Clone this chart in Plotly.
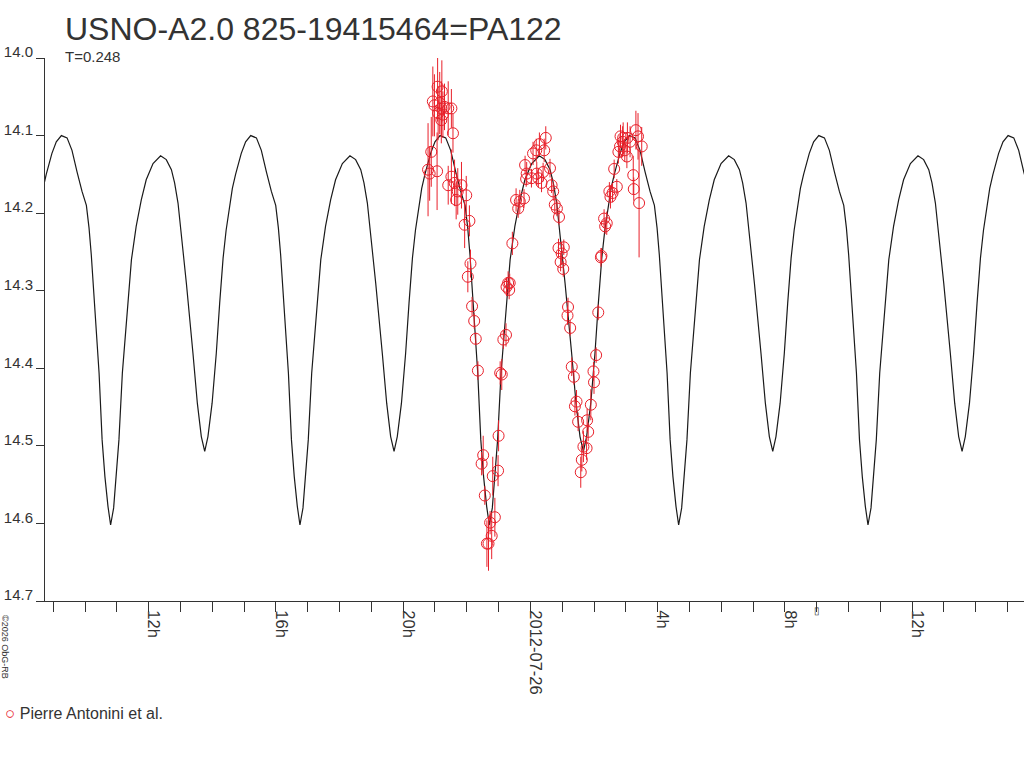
import plotly.graph_objects as go
import pandas as pd

# light curve model, one cycle (phase 0 = primary minimum)
MODEL_PHASE = [0.000, 0.016, 0.030, 0.044, 0.062, 0.088, 0.110, 0.135, 0.162, 0.188,
               0.224, 0.264, 0.294, 0.321, 0.338, 0.356, 0.369, 0.385, 0.400, 0.412,
               0.435, 0.458, 0.479, 0.497, 0.514, 0.536, 0.558, 0.576, 0.594, 0.610,
               0.625, 0.643, 0.660, 0.678, 0.690, 0.713, 0.740, 0.770, 0.796, 0.823,
               0.849, 0.872, 0.886, 0.898, 0.910, 0.918, 0.939, 0.955, 0.970, 0.986, 1.000]
MODEL_MAG = [14.602, 14.580, 14.540, 14.492, 14.406, 14.322, 14.260, 14.217, 14.183, 14.157,
             14.136, 14.126, 14.131, 14.144, 14.161, 14.187, 14.214, 14.255, 14.290, 14.325,
             14.381, 14.445, 14.488, 14.507, 14.488, 14.445, 14.381, 14.316, 14.258, 14.222,
             14.198, 14.168, 14.150, 14.134, 14.123, 14.108, 14.100, 14.103, 14.119, 14.147,
             14.172, 14.190, 14.219, 14.254, 14.297, 14.331, 14.406, 14.492, 14.540, 14.578, 14.602]
EPOCH = "2012-07-25 22:42:30"
PERIOD_D = 0.248

# observations
OBS_TIME = [
    "2012-07-25 20:47", "2012-07-25 20:50", "2012-07-25 20:53", "2012-07-25 20:56", "2012-07-25 20:59",
    "2012-07-25 21:04", "2012-07-25 21:05", "2012-07-25 21:06", "2012-07-25 21:09", "2012-07-25 21:12",
    "2012-07-25 21:12", "2012-07-25 21:13", "2012-07-25 21:15", "2012-07-25 21:18", "2012-07-25 21:25",
    "2012-07-25 21:31", "2012-07-25 21:34", "2012-07-25 21:25", "2012-07-25 21:31", "2012-07-25 21:37",
    "2012-07-25 21:40", "2012-07-25 21:43", "2012-07-25 21:50", "2012-07-25 21:59", "2012-07-25 21:56",
    "2012-07-25 22:05", "2012-07-25 22:07", "2012-07-25 22:02", "2012-07-25 22:10", "2012-07-25 22:14",
    "2012-07-25 22:17", "2012-07-25 22:21", "2012-07-25 22:31", "2012-07-25 22:28", "2012-07-25 22:34",
    "2012-07-25 22:44", "2012-07-25 22:47", "2012-07-25 22:41", "2012-07-25 22:38", "2012-07-25 22:53",
    "2012-07-25 22:49", "2012-07-25 22:59", "2012-07-25 23:00", "2012-07-25 23:03", "2012-07-25 23:06",
    "2012-07-25 23:09", "2012-07-25 23:14", "2012-07-25 23:15", "2012-07-25 23:18", "2012-07-25 23:20",
    "2012-07-25 23:21", "2012-07-25 23:26", "2012-07-25 23:33", "2012-07-25 23:37", "2012-07-25 23:40",
    "2012-07-25 23:48", "2012-07-25 23:50", "2012-07-25 23:53", "2012-07-25 23:52", "2012-07-26 00:02",
    "2012-07-26 00:05", "2012-07-26 00:11", "2012-07-26 00:12", "2012-07-26 00:15", "2012-07-26 00:17",
    "2012-07-26 00:21", "2012-07-26 00:24", "2012-07-26 00:26", "2012-07-26 00:29", "2012-07-26 00:37",
    "2012-07-26 00:40", "2012-07-26 00:43", "2012-07-26 00:46", "2012-07-26 00:50", "2012-07-26 00:54",
    "2012-07-26 00:53", "2012-07-26 01:03", "2012-07-26 00:59", "2012-07-26 00:57", "2012-07-26 01:02",
    "2012-07-26 01:11", "2012-07-26 01:10", "2012-07-26 01:15", "2012-07-26 01:18", "2012-07-26 01:22",
    "2012-07-26 01:27", "2012-07-26 01:24", "2012-07-26 01:30", "2012-07-26 01:40", "2012-07-26 01:46",
    "2012-07-26 01:37", "2012-07-26 01:35", "2012-07-26 01:49", "2012-07-26 01:47", "2012-07-26 01:54",
    "2012-07-26 01:59", "2012-07-26 02:00", "2012-07-26 02:04", "2012-07-26 02:08", "2012-07-26 02:13",
    "2012-07-26 02:14", "2012-07-26 02:19", "2012-07-26 02:24", "2012-07-26 02:21", "2012-07-26 02:29",
    "2012-07-26 02:31", "2012-07-26 02:35", "2012-07-26 02:43", "2012-07-26 02:38", "2012-07-26 02:46",
    "2012-07-26 02:49", "2012-07-26 02:50", "2012-07-26 02:54", "2012-07-26 02:58", "2012-07-26 03:02",
    "2012-07-26 02:55", "2012-07-26 03:03", "2012-07-26 03:08", "2012-07-26 03:19", "2012-07-26 03:23",
    "2012-07-26 03:30", "2012-07-26 03:14", "2012-07-26 03:15", "2012-07-26 03:25",
]
OBS_MAG = [
    14.144, 14.149, 14.121, 14.056, 14.061, 14.146, 14.037, 14.071, 14.058, 14.065,
    14.080, 14.043, 14.073, 14.063, 14.065, 14.065, 14.097, 14.164, 14.153, 14.161,
    14.183, 14.172, 14.164, 14.177, 14.215, 14.210, 14.265, 14.282, 14.320, 14.339,
    14.362, 14.403, 14.512, 14.523, 14.564, 14.599, 14.616, 14.626, 14.626, 14.592,
    14.539, 14.532, 14.487, 14.406, 14.408, 14.363, 14.357, 14.295, 14.290, 14.299,
    14.290, 14.239, 14.183, 14.194, 14.185, 14.181, 14.138, 14.149, 14.156, 14.155,
    14.123, 14.119, 14.149, 14.155, 14.111, 14.161, 14.147, 14.119, 14.103, 14.142,
    14.164, 14.172, 14.189, 14.194, 14.205, 14.245, 14.244, 14.252, 14.263, 14.272,
    14.321, 14.332, 14.348, 14.398, 14.411, 14.443, 14.449, 14.469, 14.501, 14.503,
    14.518, 14.534, 14.482, 14.467, 14.447, 14.404, 14.418, 14.383, 14.328, 14.257,
    14.255, 14.207, 14.213, 14.217, 14.172, 14.179, 14.174, 14.166, 14.143, 14.121,
    14.114, 14.101, 14.108, 14.119, 14.127, 14.103, 14.103, 14.108, 14.093, 14.101,
    14.114, 14.151, 14.169, 14.187,
]
OBS_ERR = [
    0.060, 0.035, 0.045, 0.045, 0.040, 0.050, 0.045, 0.035, 0.040, 0.035,
    0.030, 0.040, 0.030, 0.030, 0.035, 0.025, 0.025, 0.025, 0.035, 0.030,
    0.025, 0.030, 0.030, 0.025, 0.030, 0.020, 0.018, 0.020, 0.012, 0.010,
    0.008, 0.012, 0.025, 0.015, 0.012, 0.015, 0.030, 0.035, 0.030, 0.025,
    0.025, 0.020, 0.020, 0.015, 0.020, 0.012, 0.015, 0.012, 0.015, 0.012,
    0.012, 0.015, 0.015, 0.012, 0.015, 0.012, 0.012, 0.015, 0.010, 0.012,
    0.015, 0.015, 0.015, 0.012, 0.015, 0.012, 0.012, 0.015, 0.015, 0.012,
    0.010, 0.012, 0.012, 0.010, 0.010, 0.012, 0.010, 0.015, 0.012, 0.010,
    0.012, 0.012, 0.010, 0.012, 0.010, 0.015, 0.012, 0.012, 0.020, 0.015,
    0.015, 0.020, 0.012, 0.015, 0.020, 0.012, 0.015, 0.010, 0.010, 0.012,
    0.010, 0.012, 0.015, 0.010, 0.012, 0.015, 0.012, 0.010, 0.012, 0.015,
    0.015, 0.015, 0.020, 0.015, 0.015, 0.020, 0.020, 0.020, 0.025, 0.030,
    0.025, 0.025, 0.015, 0.070,
]

TICK_TIMES = ["2012-07-25 12:00", "2012-07-25 16:00", "2012-07-25 20:00", "2012-07-26 00:00",
              "2012-07-26 04:00", "2012-07-26 08:00", "2012-07-26 12:00"]
TICK_TEXT = ["12h", "16h", "20h", "2012-07-26", "4h", "8h", "12h"]
MAG_TICKS = [14.0, 14.1, 14.2, 14.3, 14.4, 14.5, 14.6, 14.7]

RED = "#e8202a"
FONT = "Liberation Sans, Arial, sans-serif"
W, H = 1024, 768

# repeat the model cycle with the period
epoch = pd.Timestamp(EPOCH)
model_t, model_m = [], []
for cyc in range(-3, 4):
    for ph, m in zip(MODEL_PHASE[:-1], MODEL_MAG[:-1]):
        model_t.append(epoch + pd.Timedelta(days=(cyc + ph) * PERIOD_D))
        model_m.append(m)

fig = go.Figure()
fig.add_trace(go.Scatter(x=model_t, y=model_m, mode="lines",
                         line=dict(color="#1a1a1a", width=1.2), showlegend=False, hoverinfo="skip"))
fig.add_trace(go.Scatter(x=pd.to_datetime(OBS_TIME), y=OBS_MAG, mode="markers",
                         name="Pierre Antonini et al.",
                         marker=dict(symbol="circle-open", size=11, color=RED, line=dict(width=1, color=RED)),
                         error_y=dict(type="data", array=OBS_ERR, color=RED, thickness=1, width=0),
                         showlegend=False))

fig.update_layout(
    width=W, height=H,
    margin=dict(l=45, r=0, t=58, b=167, autoexpand=False),
    paper_bgcolor="white", plot_bgcolor="white",
    font=dict(family=FONT, color="#333333"),
    title=dict(text="USNO-A2.0 825-19415464=PA122", x=65 / W, xanchor="left",
               y=1 - 29 / H, yanchor="middle", font=dict(size=32, color="#333333")),
)
fig.update_xaxes(
    range=["2012-07-25 08:44:30", "2012-07-26 15:31"],
    tickmode="array", tickvals=TICK_TIMES, ticktext=TICK_TEXT, tickangle=90,
    ticks="outside", ticklen=10, tickcolor="#333333", ticklabelshift=5, ticklabelstandoff=-5,
    minor=dict(tickmode="linear", tick0="2012-07-25 00:00", dtick=3600000,
               ticks="outside", ticklen=10, tickcolor="#333333"),
    showline=True, linecolor="#333333", linewidth=1,
    showgrid=False, zeroline=False, tickfont=dict(size=16.5, color="#333333"),
)
fig.update_yaxes(
    range=[14.7, 14.0], tickmode="array", tickvals=MAG_TICKS,
    ticktext=[f"{v:.1f}" for v in MAG_TICKS],
    ticks="outside", ticklen=8, tickcolor="#333333", ticklabelshift=6,
    showline=True, linecolor="#333333", linewidth=1,
    showgrid=False, zeroline=False, tickfont=dict(size=15, color="#333333"),
)

fig.add_annotation(text="T=0.248", xref="paper", yref="paper", x=18 / 979, y=1.002,
                   xanchor="left", yanchor="middle", showarrow=False,
                   font=dict(size=15, color="#333333"))
fig.add_annotation(text=f"<span style='color:{RED};font-size:17px'>○</span> Pierre Antonini et al.",
                   xref="paper", yref="paper", x=-42 / 979, y=-112 / 543,
                   xanchor="left", yanchor="middle", showarrow=False,
                   font=dict(size=16, color="#333333"))
fig.add_annotation(text="©2026 ObG-RB", xref="paper", yref="paper", x=-40 / 979, y=-12 / 543,
                   xanchor="center", yanchor="top", textangle=90, showarrow=False,
                   font=dict(size=9, color="#333333"))
fig.add_annotation(text="▯", xref="x", yref="paper", x="2012-07-26 09:00", y=-2 / 543,
                   xanchor="center", yanchor="top", showarrow=False,
                   font=dict(size=10, color="#333333"))

# drop the default page margin so the figure sits at the window's corner
fig.write_html("out.html", config={"displayModeBar": False},
               post_script="document.body.style.margin='0';")
